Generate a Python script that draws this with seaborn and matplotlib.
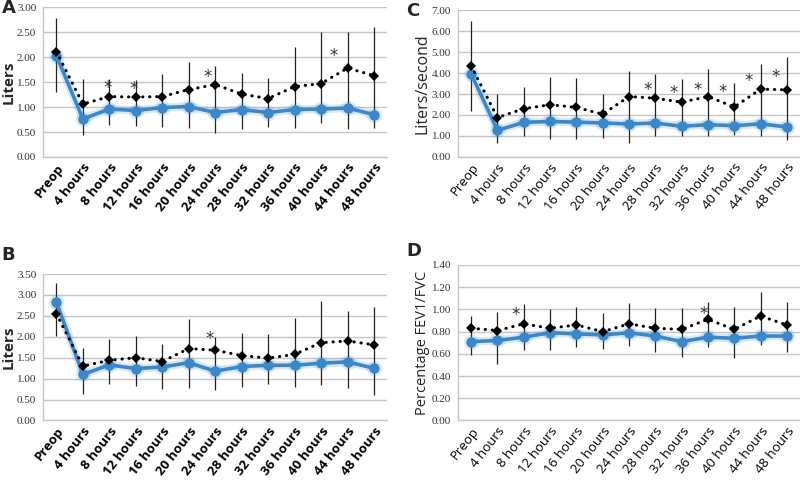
import numpy as np
import pandas as pd
import matplotlib
matplotlib.use("Agg")
import matplotlib.pyplot as plt
import seaborn as sns

categories = ["Preop", "4 hours", "8 hours", "12 hours", "16 hours", "20 hours", "24 hours",
              "28 hours", "32 hours", "36 hours", "40 hours", "44 hours", "48 hours"]

# Panel A (Liters)
a_black = [2.11, 1.06, 1.21, 1.20, 1.21, 1.35, 1.45, 1.26, 1.17, 1.41, 1.47, 1.78, 1.63]
a_blue = [2.03, 0.76, 0.96, 0.93, 0.99, 1.01, 0.89, 0.95, 0.89, 0.95, 0.96, 0.98, 0.85]
a_hi = [2.78, 1.56, 1.57, 1.55, 1.67, 1.91, 1.83, 1.69, 1.59, 2.21, 2.51, 2.50, 2.60]
a_lo = [1.31, 0.43, 0.65, 0.63, 0.61, 0.59, 0.48, 0.56, 0.61, 0.59, 0.68, 0.57, 0.58]
a_star_idx = [2, 3, 6, 10]
a_star_off = [-0.06, -0.09, -0.3, 0.47]
a_star_y = [1.38, 1.36, 1.60, 2.03]

# Panel B (Liters)
b_black = [2.55, 1.30, 1.44, 1.50, 1.41, 1.72, 1.68, 1.55, 1.49, 1.58, 1.86, 1.90, 1.81]
b_blue = [2.83, 1.10, 1.33, 1.24, 1.28, 1.38, 1.18, 1.29, 1.32, 1.32, 1.37, 1.40, 1.25]
b_hi = [3.28, 1.74, 1.94, 2.02, 1.84, 2.42, 2.00, 2.08, 2.06, 2.44, 2.86, 2.62, 2.72]
b_lo = [2.02, 0.64, 0.88, 0.82, 0.76, 0.78, 0.73, 0.80, 0.88, 0.80, 0.85, 0.77, 0.60]
b_star_idx = [6]
b_star_off = [-0.2]
b_star_y = [1.94]

# Panel C (Liters/second)
c_black = [4.34, 1.88, 2.30, 2.49, 2.36, 2.04, 2.88, 2.80, 2.61, 2.88, 2.38, 3.23, 3.20]
c_blue = [3.96, 1.27, 1.65, 1.69, 1.66, 1.62, 1.57, 1.62, 1.46, 1.54, 1.49, 1.58, 1.43]
c_hi = [6.49, 3.01, 3.33, 3.83, 3.75, 2.99, 4.12, 3.96, 3.71, 4.18, 3.52, 4.43, 4.78]
c_lo = [2.17, 0.67, 0.98, 0.86, 0.86, 0.90, 0.67, 0.98, 0.98, 0.98, 1.06, 0.98, 0.82]
c_star_idx = [7, 8, 9, 10, 11, 12]
c_star_off = [-0.31, -0.29, -0.38, -0.45, -0.46, -0.43]
c_star_y = [3.17, 3.07, 3.17, 3.10, 3.63, 3.79]

# Panel D (Percentage FEV1/FVC)
d_black = [0.83, 0.81, 0.87, 0.83, 0.86, 0.80, 0.87, 0.83, 0.82, 0.91, 0.82, 0.94, 0.86]
d_blue = [0.71, 0.72, 0.75, 0.79, 0.78, 0.77, 0.79, 0.76, 0.71, 0.75, 0.74, 0.76, 0.76]
d_hi = [0.94, 0.98, 1.05, 1.00, 1.02, 0.97, 1.06, 1.01, 1.01, 1.07, 1.02, 1.16, 1.07]
d_lo = [0.59, 0.51, 0.63, 0.63, 0.66, 0.64, 0.67, 0.62, 0.57, 0.66, 0.56, 0.68, 0.62]
d_star_idx = [2, 9]
d_star_off = [-0.3, -0.15]
d_star_y = [0.95, 0.96]

sns.set_theme(style="white")
plt.rcParams["font.family"] = ["Open Sans", "DejaVu Sans"]

BLUE = "#3A88C9"
GRID = "#C6C6C6"

fig = plt.figure(figsize=(8, 4.8), dpi=100)

panels = [
    dict(letter="A", pos=[0.054, 0.673, 0.43, 0.312], black=a_black, blue=a_blue, hi=a_hi, lo=a_lo,
         si=a_star_idx, so=a_star_off, sy=a_star_y, ymax=3.0, step=0.5, ylabel="Liters", bold=True,
         lpos=(0.002, 0.983), ylsize=11),
    dict(letter="C", pos=[0.5725, 0.673, 0.4275, 0.306], black=c_black, blue=c_blue, hi=c_hi, lo=c_lo,
         si=c_star_idx, so=c_star_off, sy=c_star_y, ymax=7.0, step=1.0, ylabel="Liters/second", bold=False,
         lpos=(0.508, 0.978), ylsize=11.5),
    dict(letter="B", pos=[0.054, 0.124, 0.43, 0.305], black=b_black, blue=b_blue, hi=b_hi, lo=b_lo,
         si=b_star_idx, so=b_star_off, sy=b_star_y, ymax=3.5, step=0.5, ylabel="Liters", bold=True,
         lpos=(0.002, 0.468), ylsize=11),
    dict(letter="D", pos=[0.5725, 0.124, 0.4275, 0.324], black=d_black, blue=d_blue, hi=d_hi, lo=d_lo,
         si=d_star_idx, so=d_star_off, sy=d_star_y, ymax=1.4, step=0.2, ylabel="Percentage FEV1/FVC",
         bold=False, lpos=(0.508, 0.478), ylsize=10.5),
]

x = np.arange(len(categories))

for p in panels:
    ax = fig.add_axes(p["pos"])
    df = pd.DataFrame({"x": x, "black": p["black"], "blue": p["blue"], "hi": p["hi"], "lo": p["lo"]})
    # error bars
    ax.vlines(df["x"], df["lo"], df["hi"], color="#222222", lw=0.9, zorder=2)
    # blue glow
    sns.lineplot(data=df, x="x", y="blue", ax=ax, color=BLUE, lw=6, alpha=0.18, zorder=3,
                 marker="o", markersize=11, markeredgewidth=0)
    sns.lineplot(data=df, x="x", y="blue", ax=ax, color=BLUE, lw=2.6, zorder=4,
                 marker="o", markersize=7.5, markeredgewidth=0)
    # black dotted
    sns.lineplot(data=df, x="x", y="black", ax=ax, color="black", lw=2.2, zorder=5,
                 linestyle=(0, (0.1, 2.2)), dash_capstyle="round")
    sns.lineplot(data=df, x="x", y="black", ax=ax, color="black", lw=0, zorder=6,
                 marker="D", markersize=5.5, markeredgewidth=0)
    for i, off, yv in zip(p["si"], p["so"], p["sy"]):
        ax.text(i + off, yv, "*", ha="center", va="center", fontsize=12, color="#333333",
                family="DejaVu Sans", zorder=7)
    ax.set_xlim(-0.5, len(categories) - 0.5)
    ax.set_ylim(0, p["ymax"])
    ticks = np.arange(0, p["ymax"] + 1e-9, p["step"])
    ax.set_yticks(ticks)
    ax.set_yticklabels([f"{t:.2f}" for t in ticks], family="Liberation Serif", fontsize=8,
                       color="#333333")
    ax.set_xticks(x)
    ax.set_xticklabels(categories, rotation=52, ha="right", rotation_mode="anchor",
                       fontsize=9.5, fontweight="bold" if p["bold"] else "normal", color="black")
    ax.grid(axis="y", color=GRID, lw=1)
    ax.set_axisbelow(True)
    for s in ["top", "right"]:
        ax.spines[s].set_visible(False)
    for s in ["left", "bottom"]:
        ax.spines[s].set_color(GRID)
        ax.spines[s].set_linewidth(1)
    ax.tick_params(axis="both", length=0, pad=3)
    ax.tick_params(axis="y", pad=5)
    ax.set_xlabel("")
    ax.set_ylabel(p["ylabel"], fontsize=p["ylsize"],
                  fontweight="bold" if p["bold"] else "normal", labelpad=1)
    if ax.get_legend() is not None:
        ax.get_legend().remove()
    fig.text(p["lpos"][0], p["lpos"][1], p["letter"], fontsize=13, fontweight="bold",
             family="DejaVu Sans", ha="left", va="center")

fig.savefig("out.png", dpi=100)
